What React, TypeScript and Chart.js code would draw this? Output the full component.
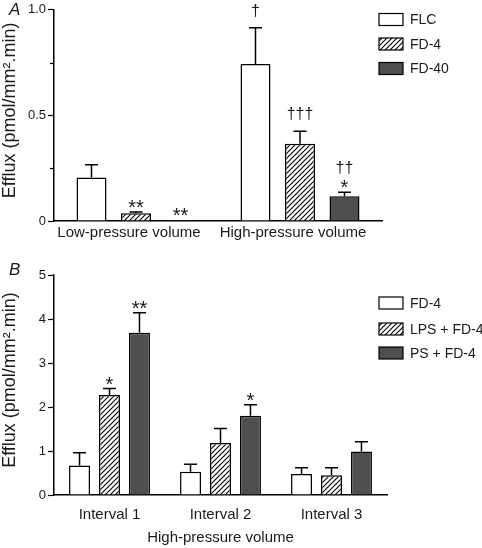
import React, { useEffect, useRef } from 'react';
import { Chart, registerables } from 'chart.js';

Chart.register(...registerables);

const FONT = '"Liberation Sans", Arial, Helvetica, sans-serif';
const INK = '#1a1a1a';
const DARK = '#4f4f4f';

// ---------- Panel A ----------
const categoriesA = ['Low-pressure volume', 'High-pressure volume'];
const seriesA = ['FLC', 'FD-4', 'FD-40'];
const flcA = [0.206, 0.743];
const flcErrA = [0.06, 0.172];
const fd4A = [0.037, 0.366];
const fd4ErrA = [0.006, 0.059];
const fd40A = [0.004, 0.117];
const fd40ErrA = [0.0, 0.019];
const flcMarksA = ['', '†'];
const fd4MarksA = ['**', '†††'];
const fd40MarksA = ['**', '††\n*'];
const yTickLabelsA = ['0', '0.5', '1.0'];
const yMinorA = [0.25, 0.75];

// ---------- Panel B ----------
const categoriesB = ['Interval 1', 'Interval 2', 'Interval 3'];
const seriesB = ['FD-4', 'LPS + FD-4', 'PS + FD-4'];
const fd4B = [0.67, 0.53, 0.48];
const fd4ErrB = [0.29, 0.17, 0.14];
const lpsB = [2.27, 1.18, 0.45];
const lpsErrB = [0.15, 0.33, 0.17];
const psB = [3.69, 1.8, 0.99];
const psErrB = [0.45, 0.25, 0.22];
const fd4MarksB = ['', '', ''];
const lpsMarksB = ['*', '', ''];
const psMarksB = ['**', '*', ''];
const yTickLabelsB = ['0', '1', '2', '3', '4', '5'];
const xTitleB = 'High-pressure volume';
const yTitle = 'Efflux (pmol/mm².min)';

function makeHatch(): CanvasPattern | string {
  const size = 5;
  const c = document.createElement('canvas');
  c.width = size;
  c.height = size;
  const g = c.getContext('2d');
  if (!g) return '#aaa';
  g.fillStyle = '#fff';
  g.fillRect(0, 0, size, size);
  g.strokeStyle = '#000';
  g.lineWidth = 1.1;
  g.beginPath();
  g.moveTo(0, size);
  g.lineTo(size, 0);
  g.moveTo(-1, 1);
  g.lineTo(1, -1);
  g.moveTo(size - 1, size + 1);
  g.lineTo(size + 1, size - 1);
  g.stroke();
  return g.createPattern(c, 'repeat') || '#aaa';
}

function drawMarks(ctx: CanvasRenderingContext2D, text: string, x: number, errTop: number) {
  if (!text) return;
  const lines = text.split('\n');
  let cursor = errTop;
  ctx.textAlign = 'center';
  ctx.textBaseline = 'alphabetic';
  ctx.fillStyle = INK;
  for (let k = lines.length - 1; k >= 0; k--) {
    const line = lines[k];
    if (line.includes('*')) {
      ctx.font = `20px ${FONT}`;
      const base = cursor + 2;
      ctx.fillText(line, x, base);
      cursor = base - 9;
    } else {
      ctx.font = `16px ${FONT}`;
      const base = cursor - 12;
      ctx.fillText(line, x, base);
      cursor = base - 12;
    }
  }
}

function makeConfig(opts: {
  categories: string[];
  names: string[];
  values: number[][];
  errors: number[][];
  marks: string[][];
  yMax: number;
  yStep: number;
  yLabels: string[];
  yMinor: number[];
  xTitle: string;
  padTop: number;
  padRight: number;
  xHeight: number;
  tickPad: number;
  labelOffset: number;
  catPct: number;
  barPct: number;
  legendX: number;
  legendY: number[];
}) {
  const hatch = makeHatch();
  const fills = ['#ffffff', hatch, DARK];
  const datasets = opts.names.map((name, i) => ({
    label: name,
    data: opts.values[i],
    errors: opts.errors[i],
    marks: opts.marks[i],
    backgroundColor: fills[i],
    borderColor: '#000',
    borderWidth: 1.5,
    categoryPercentage: opts.catPct,
    barPercentage: opts.barPct,
  }));

  const extras = {
    id: 'extras',
    afterDatasetsDraw(chart: any) {
      const ctx: CanvasRenderingContext2D = chart.ctx;
      const ys = chart.scales.y;
      const area = chart.chartArea;
      ctx.save();
      // y-axis title
      ctx.save();
      ctx.translate(10.5, (area.top + area.bottom) / 2 - 5);
      ctx.rotate(-Math.PI / 2);
      ctx.fillStyle = INK;
      ctx.font = `18px ${FONT}`;
      ctx.textAlign = 'center';
      ctx.textBaseline = 'middle';
      ctx.fillText(yTitle, 0, 0);
      ctx.restore();
      // minor ticks
      ctx.strokeStyle = '#000';
      ctx.lineWidth = 1.2;
      opts.yMinor.forEach((v) => {
        const py = Math.round(ys.getPixelForValue(v)) + 0.5;
        ctx.beginPath();
        ctx.moveTo(area.left - 4, py);
        ctx.lineTo(area.left, py);
        ctx.stroke();
      });
      // error bars and marks
      chart.data.datasets.forEach((ds: any, i: number) => {
        const meta = chart.getDatasetMeta(i);
        meta.data.forEach((bar: any, j: number) => {
          const v = ds.data[j];
          const e = ds.errors[j];
          const x = bar.x;
          const yTop = ys.getPixelForValue(v);
          const yErr = ys.getPixelForValue(v + e);
          if (e > 0) {
            ctx.strokeStyle = '#000';
            ctx.lineWidth = 1.5;
            ctx.beginPath();
            ctx.moveTo(x, yTop);
            ctx.lineTo(x, yErr);
            ctx.moveTo(x - 6.5, yErr);
            ctx.lineTo(x + 6.5, yErr);
            ctx.stroke();
          }
          drawMarks(ctx, ds.marks[j], x, yErr);
        });
      });
      // legend
      chart.data.datasets.forEach((ds: any, i: number) => {
        const cy = opts.legendY[i];
        const bx = opts.legendX;
        ctx.fillStyle = ds.backgroundColor;
        ctx.fillRect(bx, cy - 6, 24, 12);
        ctx.strokeStyle = '#000';
        ctx.lineWidth = 1.2;
        ctx.strokeRect(bx, cy - 6, 24, 12);
        ctx.fillStyle = INK;
        ctx.font = `14px ${FONT}`;
        ctx.textAlign = 'left';
        ctx.textBaseline = 'middle';
        ctx.fillText(ds.label, bx + 31, cy + 1);
      });
      ctx.restore();
    },
  };

  return {
    type: 'bar' as const,
    data: { labels: opts.categories, datasets },
    plugins: [extras],
    options: {
      animation: false as const,
      responsive: false,
      maintainAspectRatio: false,
      layout: { padding: { left: 0, right: opts.padRight, top: opts.padTop, bottom: 0 } },
      plugins: { legend: { display: false }, tooltip: { enabled: false } },
      scales: {
        x: {
          grid: { display: false, drawTicks: false },
          border: { display: true, color: '#000', width: 1.5 },
          ticks: {
            color: INK,
            font: { family: FONT, size: 15 },
            padding: opts.tickPad,
            maxRotation: 0,
            labelOffset: opts.labelOffset,
          },
          title: {
            display: !!opts.xTitle,
            text: opts.xTitle,
            color: INK,
            font: { family: FONT, size: 15 },
            padding: { top: 0, bottom: 1 },
          },
          afterFit: (s: any) => {
            s.height = opts.xHeight;
          },
        },
        y: {
          min: 0,
          max: opts.yMax,
          ticks: {
            stepSize: opts.yStep,
            color: INK,
            font: { family: FONT, size: 13 },
            padding: 2,
            callback: (_v: any, idx: number) => opts.yLabels[idx],
          },
          grid: {
            drawOnChartArea: false,
            drawTicks: true,
            tickLength: 6,
            tickColor: '#000',
            tickWidth: 1.2,
          },
          border: { display: true, color: '#000', width: 1.5 },
          title: { display: false },
          afterFit: (s: any) => {
            s.width = 54;
          },
        },
      },
    },
  };
}

function Panel({ config, top, height }: { config: () => any; top: number; height: number }) {
  const ref = useRef<HTMLCanvasElement>(null);
  useEffect(() => {
    if (!ref.current) return;
    const chart = new Chart(ref.current, config());
    return () => chart.destroy();
  }, []);
  return (
    <canvas
      ref={ref}
      width={482}
      height={height}
      style={{ position: 'absolute', left: 0, top, width: 482, height }}
    />
  );
}

const configA = () =>
  makeConfig({
    categories: categoriesA,
    names: seriesA,
    values: [flcA, fd4A, fd40A],
    errors: [flcErrA, fd4ErrA, fd40ErrA],
    marks: [flcMarksA, fd4MarksA, fd40MarksA],
    yMax: 1,
    yStep: 0.5,
    yLabels: yTickLabelsA,
    yMinor: yMinorA,
    xTitle: '',
    padTop: 7,
    padRight: 100,
    xHeight: 29,
    tickPad: 3,
    labelOffset: -7,
    catPct: 0.814,
    barPct: 0.674,
    legendX: 379,
    legendY: [19.5, 44, 68.5],
  });

const configB = () =>
  makeConfig({
    categories: categoriesB,
    names: seriesB,
    values: [fd4B, lpsB, psB],
    errors: [fd4ErrB, lpsErrB, psErrB],
    marks: [fd4MarksB, lpsMarksB, psMarksB],
    yMax: 5,
    yStep: 1,
    yLabels: yTickLabelsB,
    yMinor: [],
    xTitle: xTitleB,
    padTop: 25,
    padRight: 95,
    xHeight: 53,
    tickPad: 11,
    labelOffset: 0,
    catPct: 0.81,
    barPct: 0.7,
    legendX: 379,
    legendY: [53, 79, 103],
  });

export default function App() {
  const labelStyle: React.CSSProperties = {
    position: 'absolute',
    left: 9,
    fontFamily: FONT,
    fontStyle: 'italic',
    fontSize: 17,
    lineHeight: '20px',
    color: INK,
  };
  return (
    <div style={{ position: 'absolute', left: 0, top: 0, width: 482, height: 548, background: '#fff' }}>
      <Panel config={configA} top={0} height={250} />
      <Panel config={configB} top={250} height={298} />
      <div style={{ ...labelStyle, top: 0 }}>A</div>
      <div style={{ ...labelStyle, top: 260 }}>B</div>
    </div>
  );
}
